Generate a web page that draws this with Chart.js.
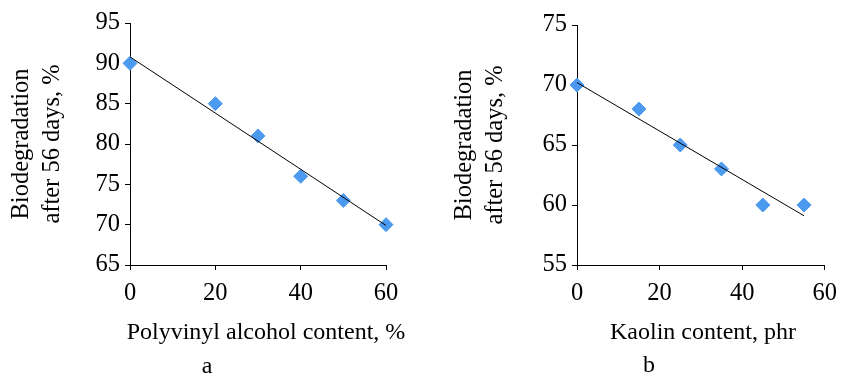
<!DOCTYPE html>
<html>
<head>
<meta charset="utf-8">
<script src="https://cdn.jsdelivr.net/npm/chart.js@4/dist/chart.umd.min.js"></script>
<style>
  html, body { margin: 0; padding: 0; background: #fff; }
  #wrap { position: relative; width: 846px; height: 376px; overflow: hidden; background: #fff; }
  .panel { position: absolute; top: 0; width: 423px; height: 376px; }
  .txt { position: absolute; text-align: center; font-family: "Liberation Serif", "Times New Roman", serif; font-size: 24px; line-height: 1; color: #000; white-space: nowrap; }
</style>
</head>
<body>
<div id="wrap">
  <div class="panel" style="left:0"><canvas id="chartA" width="423" height="376"></canvas></div>
  <div class="panel" style="left:423px"><canvas id="chartB" width="423" height="376"></canvas></div>
  <div class="txt" style="left:66px; width:400px; top:319px;">Polyvinyl alcohol content, %</div>
  <div class="txt" style="left:503px; width:400px; top:319px;">Kaolin content, phr</div>
  <div class="txt" style="left:187px; width:40px; top:353px;">a</div>
  <div class="txt" style="left:629px; width:40px; top:352px;">b</div>
</div>
<script>
// Panel a: polyvinyl alcohol content vs. biodegradation
const pvaContent = [0, 20, 30, 40, 50, 60];
const pvaBiodegradation = [90, 85, 81, 76, 73, 70];
const pvaTrendX = [0, 60];
const pvaTrendY = [90.8, 69.9];

// Panel b: kaolin content vs. biodegradation
const kaolinContent = [0, 15, 25, 35, 45, 55];
const kaolinBiodegradation = [70, 68, 65, 63, 60, 60];
const kaolinTrendX = [0, 55];
const kaolinTrendY = [70.2, 59.1];

const yTitleLines = ['Biodegradation', 'after 56 days, %'];

const FONT = '"Liberation Serif", "Times New Roman", serif';
const MARKER = '#4C9AF0';

function toPoints(xs, ys) {
  return xs.map((x, i) => ({ x: x, y: ys[i] }));
}

function buildPanel(id, cfg) {
  new Chart(document.getElementById(id), {
    type: 'scatter',
    data: {
      datasets: [
        {
          // least-squares trend line, drawn above the markers
          data: toPoints(cfg.trendX, cfg.trendY),
          showLine: true,
          borderColor: '#000',
          borderWidth: 1,
          pointRadius: 0,
          pointHoverRadius: 0,
          fill: false
        },
        {
          data: toPoints(cfg.xs, cfg.ys),
          pointStyle: 'rectRot',
          pointRadius: 7,
          pointBorderWidth: 1,
          backgroundColor: MARKER,
          borderColor: MARKER,
          clip: false
        }
      ]
    },
    options: {
      responsive: false,
      animation: false,
      devicePixelRatio: 1,
      layout: { padding: { top: cfg.padTop, right: cfg.padRight, left: 0, bottom: 0 } },
      plugins: { legend: { display: false }, tooltip: { enabled: false } },
      scales: {
        x: {
          type: 'linear',
          min: 0, max: 60,
          ticks: { stepSize: 20, color: '#000', padding: 9, font: { family: FONT, size: 24.5 } },
          grid: { drawOnChartArea: false, drawTicks: true, tickLength: 5, color: '#000', lineWidth: 1 },
          border: { display: true, color: '#000', width: 1 },
          title: { display: false },
          afterFit: s => { s.height = 111; }
        },
        y: {
          type: 'linear',
          min: cfg.yMin, max: cfg.yMax,
          ticks: { stepSize: 5, color: '#000', padding: 5, font: { family: FONT, size: 24.5 } },
          grid: { drawOnChartArea: false, drawTicks: true, tickLength: 5, color: '#000', lineWidth: 1 },
          border: { display: true, color: '#000', width: 1 },
          title: {
            display: true,
            text: yTitleLines,
            color: '#000',
            font: { family: FONT, size: 24.5, lineHeight: 31 / 24.5 },
            padding: { top: cfg.yTitlePad, bottom: 0 }
          },
          afterFit: s => { s.width = cfg.yAxisWidth; }
        }
      }
    }
  });
}

buildPanel('chartA', {
  xs: pvaContent, ys: pvaBiodegradation,
  trendX: pvaTrendX, trendY: pvaTrendY,
  yMin: 65, yMax: 95,
  padTop: 23, padRight: 37,
  yAxisWidth: 130, yTitlePad: 6
});

buildPanel('chartB', {
  xs: kaolinContent, ys: kaolinBiodegradation,
  trendX: kaolinTrendX, trendY: kaolinTrendY,
  yMin: 55, yMax: 75,
  padTop: 25, padRight: 17,
  yAxisWidth: 154, yTitlePad: 26
});
</script>
</body>
</html>
